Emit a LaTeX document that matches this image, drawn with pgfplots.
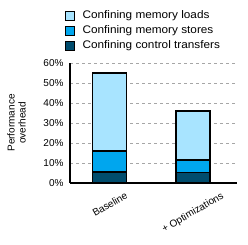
\documentclass[border=0pt]{standalone}
\usepackage{pgfplots}
\pgfplotsset{compat=1.18}
\usepackage{fontspec}
\setmainfont{Liberation Sans}
\newfontfamily\legfont[FakeStretch=1.07]{Liberation Sans}
\definecolor{cload}{HTML}{A8E4FF}
\definecolor{cstore}{HTML}{00A6EE}
\definecolor{cctrl}{HTML}{004C6D}
\begin{document}
\fontsize{10}{11}\selectfont
\begin{tikzpicture}
\path[use as bounding box] (-70pt,-62pt) rectangle (178pt,183pt);
\begin{axis}[
  scale only axis,
  width=167pt, height=120pt,
  ybar stacked,
  bar width=34pt,
  xmin=-0.48, xmax=1.53,
  ymin=0, ymax=60,
  ytick={0,10,20,30,40,50,60},
  yticklabel={\pgfmathprintnumber{\tick}\%},
  /pgf/number format/assume math mode=true,
  xtick={0,1},
  xticklabels={\rotatebox{30}{Baseline},\rotatebox{30}{+ Optimizations}},
  xticklabel style={anchor=north, yshift=-5pt},
  yticklabel style={xshift=-3pt},
  major tick length=0pt,
  axis x line*=bottom,
  axis y line*=left,
  axis line style={line width=1.6pt, -},
  ymajorgrids,
  grid style={dashed, gray!70, line width=0.5pt},
  ylabel={Performance\\overhead},
  ylabel style={align=center, anchor=center, at={(axis description cs:-0.32,0.5)}},
  tick label style={font=\fontsize{10}{11}\selectfont},
  label style={font=\fontsize{10}{11}\selectfont},
  legend style={at={(axis description cs:-0.04,1.46)}, anchor=north west, draw=none, fill=none,
    font=\legfont\fontsize{11}{12}\selectfont, row sep=1.5pt, inner sep=1pt,
    legend cell align=left},
  legend image code/.code={\draw[#1, draw=black, line width=0.9pt] (0pt,-4.6pt) rectangle (9.5pt,4.6pt); \path (15pt,0pt);},
  reverse legend,
  every axis plot/.append style={draw=black, line width=1.2pt},
]
\addplot[fill=cctrl] coordinates {(0,5.5) (1,5.2)};
\addplot[fill=cstore] coordinates {(0,10.5) (1,6.3)};
\addplot[fill=cload] coordinates {(0,39) (1,24.5)};
\legend{Confining control transfers, Confining memory stores, Confining memory loads}
\end{axis}
\end{tikzpicture}
\end{document}
